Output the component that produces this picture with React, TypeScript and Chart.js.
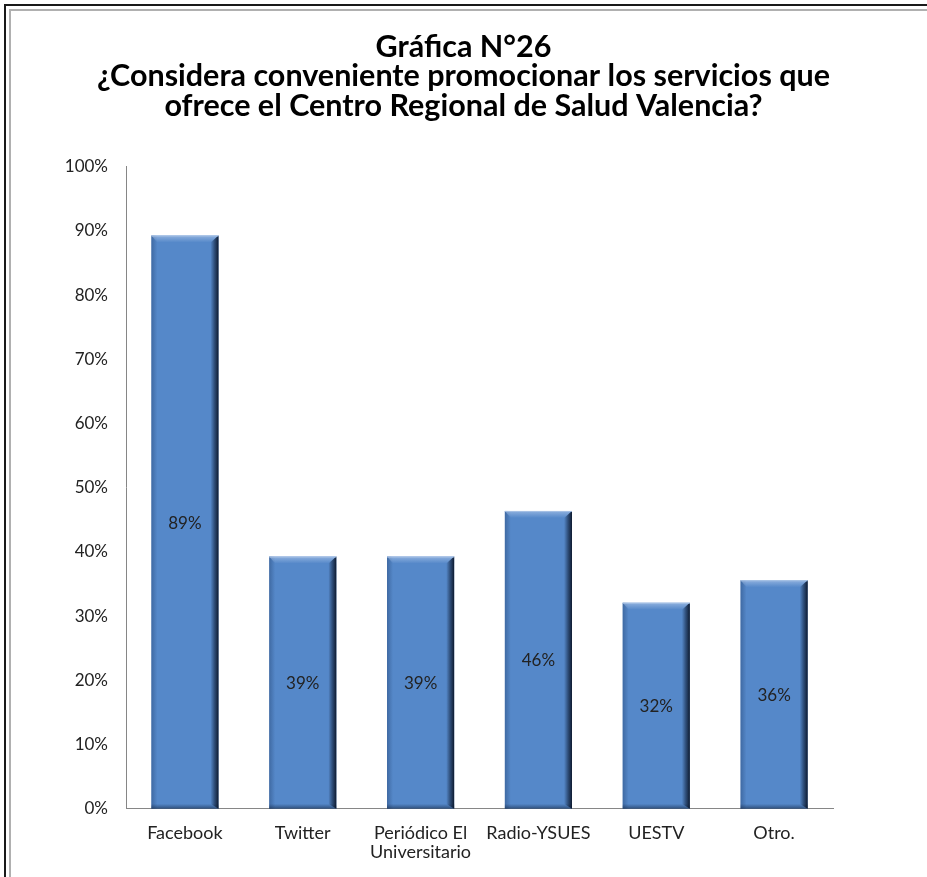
import React, { useEffect, useRef } from "react";
import { Chart, registerables } from "chart.js";

Chart.register(...registerables);

const categories: (string | string[])[] = [
  "Facebook",
  "Twitter",
  ["Periódico El", "Universitario"],
  "Radio-YSUES",
  "UESTV",
  "Otro.",
];
const values = [89.3, 39.3, 39.3, 46.4, 32.1, 35.6];
const valueLabels = ["89%", "39%", "39%", "46%", "32%", "36%"];
const titleLines = [
  "Gráfica N°26",
  "¿Considera conveniente promocionar los servicios que",
  "ofrece el Centro Regional de Salud Valencia?",
];
const yMin = 0;
const yMax = 100;
const yStep = 10;

const FONT = "Lato, 'Open Sans', sans-serif";

const bevelPlugin = {
  id: "bevel",
  afterDatasetDraw(chart: any, args: any) {
    const meta = chart.getDatasetMeta(args.index);
    const ctx = chart.ctx as CanvasRenderingContext2D;
    meta.data.forEach((bar: any) => {
      const { x, y, base, width } = bar.getProps(["x", "y", "base", "width"], true);
      const l = x - width / 2;
      const r = x + width / 2;
      const t = Math.min(y, base);
      const b = Math.max(y, base);
      const h = b - t;
      ctx.save();
      let g = ctx.createLinearGradient(l, 0, l + 6, 0);
      g.addColorStop(0, "rgba(30,60,105,0.4)");
      g.addColorStop(1, "rgba(30,60,105,0)");
      ctx.fillStyle = g;
      ctx.fillRect(l, t, 6, h);
      g = ctx.createLinearGradient(0, t, 0, t + 7);
      g.addColorStop(0, "rgba(190,210,240,0.55)");
      g.addColorStop(1, "rgba(190,210,240,0)");
      ctx.fillStyle = g;
      ctx.beginPath();
      ctx.moveTo(l, t);
      ctx.lineTo(r, t);
      ctx.lineTo(r - 7, t + 7);
      ctx.lineTo(l + 6, t + 7);
      ctx.closePath();
      ctx.fill();
      g = ctx.createLinearGradient(0, b - 5, 0, b);
      g.addColorStop(0, "rgba(20,40,70,0)");
      g.addColorStop(1, "rgba(20,40,70,0.6)");
      ctx.fillStyle = g;
      ctx.fillRect(l, b - 5, width, 5);
      g = ctx.createLinearGradient(r - 8, 0, r, 0);
      g.addColorStop(0, "rgba(15,30,55,0)");
      g.addColorStop(0.5, "rgba(15,30,55,0.55)");
      g.addColorStop(1, "rgba(10,20,38,0.95)");
      ctx.fillStyle = g;
      ctx.beginPath();
      ctx.moveTo(r, t);
      ctx.lineTo(r, b);
      ctx.lineTo(r - 8, b - 5);
      ctx.lineTo(r - 8, t + 7);
      ctx.closePath();
      ctx.fill();
      ctx.fillStyle = "rgba(170,195,230,0.9)";
      ctx.fillRect(l, t, width, 1);
      ctx.restore();
    });
  },
};

const valueLabelPlugin = {
  id: "valueLabels",
  afterDatasetsDraw(chart: any) {
    const meta = chart.getDatasetMeta(0);
    const ctx = chart.ctx as CanvasRenderingContext2D;
    ctx.save();
    ctx.font = `17px ${FONT}`;
    ctx.fillStyle = "#222";
    ctx.textAlign = "center";
    ctx.textBaseline = "middle";
    meta.data.forEach((bar: any, i: number) => {
      const { x, y, base } = bar.getProps(["x", "y", "base"], true);
      ctx.fillText(valueLabels[i], x, (y + base) / 2 + 1);
    });
    ctx.restore();
  },
};

export default function App() {
  const canvasRef = useRef<HTMLCanvasElement | null>(null);

  useEffect(() => {
    const canvas = canvasRef.current;
    if (!canvas) return;
    const chart = new Chart(canvas, {
      type: "bar",
      data: {
        labels: categories as any,
        datasets: [
          {
            data: values,
            backgroundColor: "#5588C9",
            borderWidth: 0,
            barPercentage: 0.57,
            categoryPercentage: 1,
          },
        ],
      },
      options: {
        responsive: false,
        animation: false,
        devicePixelRatio: 1,
        layout: { padding: { left: 0, right: 0, top: 0, bottom: 0 } },
        plugins: {
          legend: { display: false },
          tooltip: { enabled: false },
          title: {
            display: true,
            text: titleLines,
            color: "#000",
            font: { family: FONT, size: 30.5, weight: "bold", lineHeight: 0.97 },
            padding: { top: 32, bottom: 46 },
          },
        },
        scales: {
          x: {
            grid: { display: false, drawTicks: false },
            border: { display: true, color: "#868686", width: 1 },
            ticks: {
              color: "#222",
              font: { family: FONT, size: 18, lineHeight: 1.06 },
              padding: 15,
              maxRotation: 0,
              autoSkip: false,
            },
          },
          y: {
            min: yMin,
            max: yMax,
            grid: { display: false, drawTicks: false },
            border: { display: true, color: "#868686", width: 1 },
            ticks: {
              stepSize: yStep,
              color: "#222",
              font: { family: FONT, size: 17 },
              padding: 18,
              callback: (v: any) => `${v}%`,
            },
            afterFit(scale: any) {
              scale.width = 126;
            },
          },
          yRight: {
            position: "right",
            display: true,
            grid: { display: false, drawTicks: false },
            border: { display: false },
            ticks: { display: false },
            afterFit(scale: any) {
              scale.width = 94;
            },
          },
        },
      } as any,
      plugins: [bevelPlugin, valueLabelPlugin],
    });
    return () => chart.destroy();
  }, []);

  return (
    <div
      style={{
        position: "absolute",
        left: 0,
        top: 0,
        width: 927,
        height: 877,
        overflow: "hidden",
        background: "#fff",
      }}
    >
      <div
        style={{
          position: "absolute",
          left: 4,
          top: 4,
          right: 0,
          bottom: 0,
          borderLeft: "2px solid #1a1a1a",
          borderTop: "2px solid #1a1a1a",
        }}
      />
      <div
        style={{
          position: "absolute",
          left: 9,
          top: 9,
          right: 0,
          bottom: 0,
          borderLeft: "2px solid #b0b0b0",
          borderTop: "2px solid #b0b0b0",
        }}
      />
      <canvas
        ref={canvasRef}
        width={927}
        height={877}
        style={{ position: "absolute", left: 0, top: 0, width: 927, height: 877, display: "block" }}
      />
    </div>
  );
}
